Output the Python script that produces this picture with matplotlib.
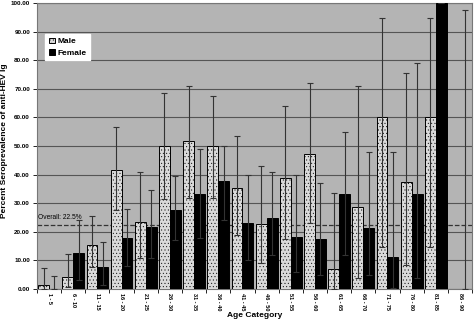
import numpy as np
import matplotlib.pyplot as plt

plt.rcParams['font.family'] = ['Liberation Sans', 'DejaVu Sans']

ages = ["1 - 5", "6 - 10", "11 - 15", "16 - 20", "21 - 25", "26 - 30", "31 - 35",
        "36 - 40", "41 - 45", "46 - 50", "51 - 55", "56 - 60", "61 - 65", "66 - 70",
        "71 - 75", "76 - 80", "81 - 85", "86 - 90"]

male = [1.3, 4.3, 15.3, 41.7, 23.5, 50.0, 51.9, 50.0, 35.3, 22.8, 38.9, 47.1,
        7.1, 28.6, 60.0, 37.5, 60.0, 0.0]
male_lo = [0.0, 0.8, 7.8, 27.5, 10.8, 31.5, 32.0, 32.0, 19.0, 9.0, 17.5, 23.0,
           0.2, 3.7, 14.7, 8.5, 14.7, np.nan]
male_hi = [7.3, 12.2, 25.5, 56.7, 41.0, 68.5, 71.0, 67.5, 53.5, 43.0, 64.0, 72.0,
           33.5, 71.0, 94.7, 75.5, 94.7, np.nan]

female = [0.0, 12.5, 7.8, 17.7, 21.8, 27.5, 33.3, 37.8, 23.1, 25.0, 18.2, 17.6,
          33.3, 21.4, 11.1, 33.3, 100.0, 0.0]
female_lo = [0.0, 3.0, 1.5, 8.0, 11.0, 17.0, 18.0, 24.0, 10.0, 12.0, 6.0, 5.0,
             12.0, 5.0, 0.3, 4.0, 100.0, 0.0]
female_hi = [4.7, 24.0, 16.5, 28.0, 34.5, 39.5, 49.0, 50.0, 40.0, 41.0, 40.0, 37.0,
             55.0, 48.0, 48.0, 79.0, 100.0, 97.5]

overall = 22.5

x = np.arange(len(ages))
w = 0.45
m = np.array(male)
f = np.array(female)
m_err = [m - np.array(male_lo), np.array(male_hi) - m]
f_err = [f - np.array(female_lo), np.array(female_hi) - f]

plt.rcParams['hatch.color'] = '#a8a8a8'
plt.rcParams['hatch.linewidth'] = 0.3

fig = plt.figure(figsize=(4.74, 3.23), dpi=100)
ax = fig.add_axes([0.078, 0.105, 0.918, 0.886])
ax.set_facecolor('#b4b4b4')

ax.bar(x - w / 2, m, w, color='#dadada', edgecolor='black', linewidth=0.7,
       hatch='.....', label='Male', zorder=3)
ax.bar(x + w / 2, f, w, color='black', edgecolor='black', linewidth=0.7,
       label='Female', zorder=3)
ax.errorbar(x - w / 2, m, yerr=m_err, fmt='none', ecolor='#333333',
            elinewidth=0.8, capsize=2, capthick=0.8, zorder=4)
ax.errorbar(x + w / 2, f, yerr=f_err, fmt='none', ecolor='#333333',
            elinewidth=0.8, capsize=2, capthick=0.8, zorder=4)

ax.axhline(overall, color='#333333', linestyle='--', linewidth=0.9, zorder=2)
ax.text(-0.45, overall + 1.2, "Overall: 22.5%", fontsize=4.8, ha='left',
        va='bottom', zorder=5)

ax.set_xlim(-0.5, len(ages) - 0.5)
ax.set_ylim(0, 100)
ax.set_yticks(np.arange(0, 101, 10))
ax.set_yticklabels(["%.2f" % v for v in np.arange(0, 101, 10)], fontsize=4.5,
                   fontweight='bold')
ax.set_xticks(np.arange(len(ages) + 1) - 0.5, minor=False)
ax.set_xticklabels([])
ax.set_xticks(x, minor=True)
ax.set_xticklabels(ages, minor=True, rotation=270, fontsize=4, fontweight='bold')
ax.tick_params(axis='x', which='minor', length=0, pad=3)
ax.tick_params(axis='x', which='major', length=3, width=0.6)
ax.tick_params(axis='y', length=3, width=0.6, pad=2)
ax.yaxis.grid(True, color='#555555', linewidth=0.8, zorder=1)
ax.set_axisbelow(True)
for s in ax.spines.values():
    s.set_color('#777777')
    s.set_linewidth(0.8)

ax.set_xlabel("Age Category", fontsize=6, fontweight='bold')
ax.xaxis.set_label_coords(0.5, -0.08)
ax.set_ylabel("Percent Seroprevalence of anti-HEV Ig", fontsize=6,
              fontweight='bold')
ax.yaxis.set_label_coords(-0.066, 0.52)

leg = ax.legend(loc='upper left', bbox_to_anchor=(0.01, 0.905), fontsize=6,
                prop={'weight': 'bold', 'size': 6}, frameon=True, fancybox=False,
                handlelength=0.7, handleheight=0.7, handletextpad=0.4,
                borderpad=0.4, labelspacing=0.4)
leg.get_frame().set_facecolor('white')
leg.get_frame().set_edgecolor('white')
leg.get_frame().set_alpha(1)

fig.savefig("out.png", dpi=100)
